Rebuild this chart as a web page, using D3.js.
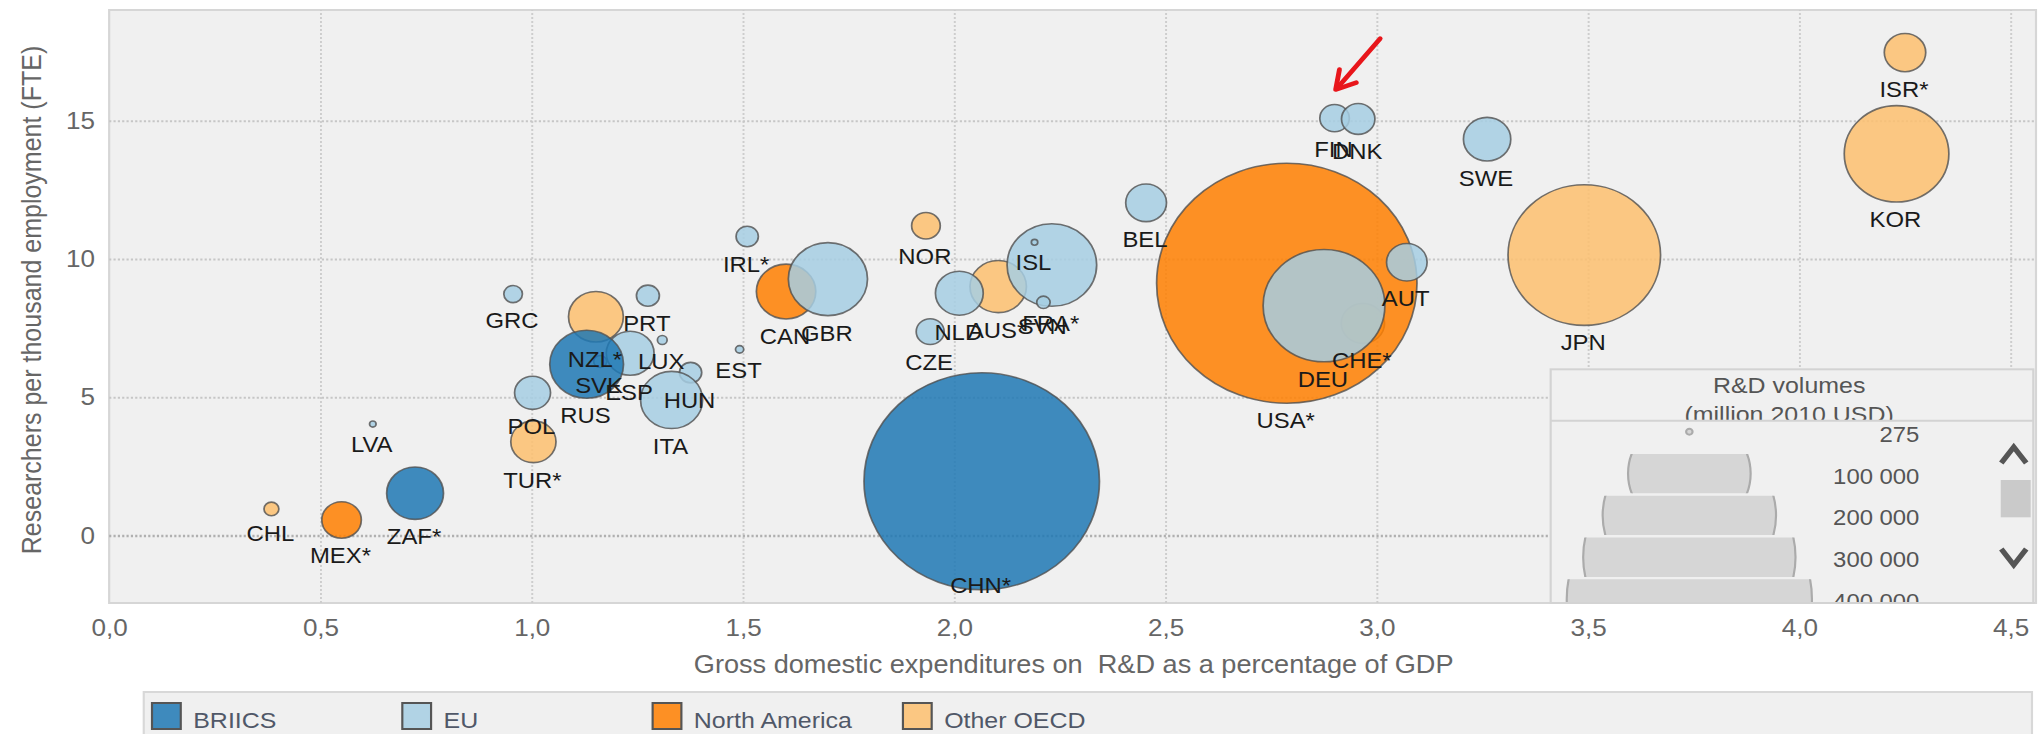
<!DOCTYPE html>
<html>
<head>
<meta charset="utf-8">
<script src="https://cdn.jsdelivr.net/npm/d3@7"></script>
<style>
  body { margin: 0; background: #fff; }
  svg { display: block; font-family: "Liberation Sans", Arial, sans-serif; }
</style>
</head>
<body>
<div id="chart"></div>
<script>
//values
var countries = ["CHL", "MEX*", "ZAF*", "LVA", "POL", "TUR*", "GRC", "NZL*", "RUS", "ESP",
                 "SVK", "LUX", "PRT", "HUN", "ITA", "EST", "IRL*", "CAN", "GBR", "NOR",
                 "CZE", "NLD", "AUS*", "FRA*", "ISL", "SVN", "BEL", "USA*", "DEU", "CHE*",
                 "AUT", "FIN", "DNK", "SWE", "JPN", "KOR", "ISR*", "CHN*"];
var groups = ["Other OECD", "North America", "BRIICS", "EU", "EU", "Other OECD", "EU", "Other OECD", "BRIICS", "EU",
              "EU", "EU", "EU", "EU", "EU", "EU", "EU", "North America", "EU", "Other OECD",
              "EU", "EU", "Other OECD", "EU", "EU", "EU", "EU", "North America", "EU", "Other OECD",
              "EU", "EU", "EU", "EU", "Other OECD", "Other OECD", "Other OECD", "BRIICS"];
//gross domestic expenditures on R&D, % of GDP
var gerd = [0.384, 0.55, 0.724, 0.624, 1.002, 1.004, 0.956, 1.152, 1.130, 1.233,
            1.162, 1.309, 1.275, 1.376, 1.331, 1.492, 1.510, 1.602, 1.701, 1.933,
            1.943, 2.012, 2.104, 2.231, 2.190, 2.211, 2.454, 2.787, 2.875, 2.967,
            3.071, 2.900, 2.956, 3.261, 3.491, 4.230, 4.250, 2.065];
//researchers per thousand employment
var researchers = [0.96, 0.56, 1.53, 4.03, 5.16, 3.39, 8.73, 7.91, 6.19, 6.59,
                   6.29, 7.07, 8.67, 5.89, 4.90, 6.73, 10.81, 8.82, 9.27, 11.20,
                   7.37, 8.76, 9.00, 9.78, 10.60, 8.43, 12.03, 9.12, 8.31, 7.67,
                   9.88, 15.09, 15.06, 14.33, 10.14, 13.80, 17.46, 1.96];
//R&D volumes, million 2010 USD
var volumes = [1470, 10400, 21500, 290, 8600, 13600, 2300, 20000, 36200, 15200,
               1130, 630, 3500, 3300, 25600, 450, 3300, 23500, 41700, 5460,
               5200, 15200, 21200, 53400, 275, 1200, 11070, 451000, 98600, 12500,
               10950, 5790, 7430, 14900, 154800, 72800, 11430, 368800];

var groupNames = ["BRIICS", "EU", "North America", "Other OECD"];
var groupColors = ["#1f78b4", "#a6cee3", "#ff7f00", "#fdbf6f"];
var sizeLegendValues = [275, 100000, 200000, 300000, 400000];
var xTicks = [0, 0.5, 1, 1.5, 2, 2.5, 3, 3.5, 4, 4.5];
var yTicks = [0, 5, 10, 15];

//the picture is stretched sideways, so draw in a narrower space and scale it
var stretch = 1.085;
var plot = {left: 100.6, right: 1876.5, top: 10, bottom: 603};

var x = d3.scaleLinear().domain([0, 4.56]).range([plot.left, plot.right]);
var y = d3.scaleLinear().domain([-2.44, 19]).range([plot.bottom, plot.top]);
var size = d3.scaleSqrt().domain([0, 100000]).range([0, 56.5]);
var color = d3.scaleOrdinal().domain(groupNames).range(groupColors);

var svg = d3.select("#chart").append("svg")
    .attr("width", 2040)
    .attr("height", 734);
var g = svg.append("g").attr("transform", "scale(" + stretch + ",1)");

var defs = svg.append("defs");
defs.append("clipPath").attr("id", "plotclip")
    .append("rect")
    .attr("x", plot.left).attr("y", plot.top)
    .attr("width", plot.right - plot.left).attr("height", plot.bottom - plot.top);

//plot background
g.append("rect")
    .attr("x", plot.left).attr("y", plot.top)
    .attr("width", plot.right - plot.left).attr("height", plot.bottom - plot.top)
    .attr("fill", "#f0f0f0")
    .attr("stroke", "#d6d6d6")
    .attr("stroke-width", 2);

//grid
var xGrid = g.append("g")
    .attr("transform", "translate(0," + plot.bottom + ")")
    .call(d3.axisBottom(x).tickValues(xTicks.slice(1)).tickSize(-(plot.bottom - plot.top)).tickFormat(""));
xGrid.select(".domain").remove();
xGrid.selectAll("line").attr("stroke", "#cdcdcd").attr("stroke-width", 1.8).attr("stroke-dasharray", "2,2");

var yGrid = g.append("g")
    .attr("transform", "translate(" + plot.left + ",0)")
    .call(d3.axisLeft(y).tickValues(yTicks).tickSize(-(plot.right - plot.left)).tickFormat(""));
yGrid.select(".domain").remove();
yGrid.selectAll("line")
    .attr("stroke", function(d) { return d === 0 ? "#b0b0b0" : "#c6c6c6"; })
    .attr("stroke-width", function(d) { return d === 0 ? 2.6 : 2; })
    .attr("stroke-dasharray", "2,2");

//axes labels
var xAxis = g.append("g")
    .attr("transform", "translate(0," + plot.bottom + ")")
    .call(d3.axisBottom(x).tickValues(xTicks).tickSize(0).tickPadding(16)
        .tickFormat(function(d) { return d3.format(".1f")(d).replace(".", ","); }));
xAxis.select(".domain").remove();
xAxis.selectAll("text").attr("font-size", 24).attr("fill", "#666").attr("font-family", null);

var yAxis = g.append("g")
    .attr("transform", "translate(" + plot.left + ",0)")
    .call(d3.axisLeft(y).tickValues(yTicks).tickSize(0).tickPadding(13));
yAxis.select(".domain").remove();
yAxis.selectAll("text").attr("font-size", 24).attr("fill", "#666").attr("font-family", null);

g.append("text")
    .attr("transform", "translate(38,300) rotate(-90)")
    .attr("text-anchor", "middle")
    .attr("font-size", 25)
    .attr("fill", "#666")
    .text("Researchers per thousand employment (FTE)");

g.append("text")
    .attr("x", (plot.left + plot.right) / 2 + 1)
    .attr("y", 673)
    .attr("text-anchor", "middle")
    .attr("font-size", 25)
    .attr("fill", "#666")
    .style("white-space", "pre")
    .text("Gross domestic expenditures on  R&D as a percentage of GDP");

//bubbles, drawn group by group
var drawOrder = ["Other OECD", "North America", "EU", "BRIICS"];
var order = d3.range(countries.length).sort(function(a, b) {
    return drawOrder.indexOf(groups[a]) - drawOrder.indexOf(groups[b]) || a - b;
});

var bubbles = g.append("g").attr("clip-path", "url(#plotclip)");
bubbles.selectAll("circle")
    .data(order)
    .enter()
    .append("circle")
    .attr("cx", function(i) { return x(gerd[i]); })
    .attr("cy", function(i) { return y(researchers[i]); })
    .attr("r", function(i) { return size(volumes[i]); })
    .attr("fill", function(i) { return color(groups[i]); })
    .attr("fill-opacity", 0.85)
    .attr("stroke", "#505050")
    .attr("stroke-opacity", 0.8)
    .attr("stroke-width", 1.6);

bubbles.selectAll("text")
    .data(order)
    .enter()
    .append("text")
    .attr("x", function(i) { return x(gerd[i]) - 1; })
    .attr("y", function(i) {
        return Math.min(y(researchers[i]) + size(volumes[i]) + 25, plot.bottom - 10);
    })
    .attr("text-anchor", "middle")
    .attr("font-size", 22)
    .attr("fill", "#1a1a1a")
    .text(function(i) { return countries[i]; });

//red arrow pointing at FIN
var fin = countries.indexOf("FIN");
var tipX = x(gerd[fin]) + 1, tipY = y(researchers[fin]) - size(volumes[fin]) - 15;
var arrow = g.append("g")
    .attr("fill", "none")
    .attr("stroke", "#e8161b")
    .attr("stroke-width", 4.5)
    .attr("stroke-linecap", "round")
    .attr("stroke-linejoin", "round");
arrow.append("line")
    .attr("x1", tipX + 41).attr("y1", tipY - 51)
    .attr("x2", tipX + 1).attr("y2", tipY - 1);
arrow.append("path")
    .attr("d", "M" + (tipX + 3.5) + "," + (tipY - 20) + "L" + tipX + "," + tipY + "L" + (tipX + 19) + "," + (tipY - 7));

//R&D volume legend box
var box = {left: 1429.2, right: 1874, top: 369.3, head: 420.7, bottom: plot.bottom};
var sizeLegend = g.append("g");
sizeLegend.append("rect")
    .attr("x", box.left).attr("y", box.top)
    .attr("width", box.right - box.left).attr("height", box.bottom - box.top)
    .attr("fill", "#f0f0f0")
    .attr("stroke", "#d3d3d3")
    .attr("stroke-width", 2);
sizeLegend.append("line")
    .attr("x1", box.left).attr("x2", box.right)
    .attr("y1", box.head).attr("y2", box.head)
    .attr("stroke", "#d3d3d3").attr("stroke-width", 2);

defs.append("clipPath").attr("id", "headclip")
    .append("rect")
    .attr("x", box.left).attr("y", box.top)
    .attr("width", box.right - box.left).attr("height", box.head - box.top - 1);
defs.append("clipPath").attr("id", "listclip")
    .append("rect")
    .attr("x", box.left).attr("y", box.head + 1)
    .attr("width", box.right - box.left).attr("height", box.bottom - box.head - 2);

var head = sizeLegend.append("text")
    .attr("clip-path", "url(#headclip)")
    .attr("x", 1649)
    .attr("text-anchor", "middle")
    .attr("font-size", 23)
    .attr("fill", "#555");
head.append("tspan").attr("x", 1649).attr("y", 393.3).text("R&D volumes");
head.append("tspan").attr("x", 1649).attr("y", 422).text("(million 2010 USD)");

var list = sizeLegend.append("g").attr("clip-path", "url(#listclip)");
var rowY = d3.scaleLinear().domain([0, 1]).range([431.8, 473.6]);
var rows = list.selectAll("g.row")
    .data(sizeLegendValues)
    .enter()
    .append("g")
    .attr("class", "row");
rows.each(function(v, k) {
    var yc = rowY(k);
    var id = "rowclip" + k;
    defs.append("clipPath").attr("id", id)
        .append("rect")
        .attr("x", box.left).attr("y", yc - 19.7)
        .attr("width", box.right - box.left).attr("height", 39.4);
    d3.select(this).append("circle")
        .attr("clip-path", "url(#" + id + ")")
        .attr("cx", 1557)
        .attr("cy", yc)
        .attr("r", size(v))
        .attr("fill", "#d6d6d6")
        .attr("stroke", "#ababab")
        .attr("stroke-width", 2);
    d3.select(this).append("text")
        .attr("x", 1769)
        .attr("y", yc + 10)
        .attr("text-anchor", "end")
        .attr("font-size", 22)
        .attr("fill", "#555")
        .text(d3.format(",")(v).replace(/,/g, " "));
});

//scroll controls
sizeLegend.append("path")
    .attr("d", "M1844.5,463L1856,447L1867.5,463")
    .attr("fill", "none").attr("stroke", "#555").attr("stroke-width", 5);
sizeLegend.append("rect")
    .attr("x", 1844).attr("y", 480)
    .attr("width", 27.6).attr("height", 37.3)
    .attr("fill", "#cacaca");
sizeLegend.append("path")
    .attr("d", "M1844.5,549L1856,565L1867.5,549")
    .attr("fill", "none").attr("stroke", "#555").attr("stroke-width", 5);

//group legend at the bottom
var legend = g.append("g");
legend.append("rect")
    .attr("x", 132.5).attr("y", 692)
    .attr("width", 1740.3).attr("height", 60)
    .attr("fill", "#f0f0f0")
    .attr("stroke", "#d8d8d8")
    .attr("stroke-width", 2);
var legendX = d3.scalePoint().domain(groupNames).range([140.1, 140.1 + 3 * 230.7]);
var items = legend.selectAll("g.item")
    .data(groupNames)
    .enter()
    .append("g")
    .attr("class", "item")
    .attr("transform", function(d) { return "translate(" + legendX(d) + ",0)"; });
items.append("rect")
    .attr("x", 0).attr("y", 703)
    .attr("width", 26.5).attr("height", 26)
    .attr("fill", function(d) { return color(d); })
    .attr("fill-opacity", 0.85)
    .attr("stroke", "#555")
    .attr("stroke-width", 2);
items.append("text")
    .attr("x", 38)
    .attr("y", 728)
    .attr("font-size", 23)
    .attr("fill", "#505868")
    .text(function(d) { return d; });
</script>
</body>
</html>
